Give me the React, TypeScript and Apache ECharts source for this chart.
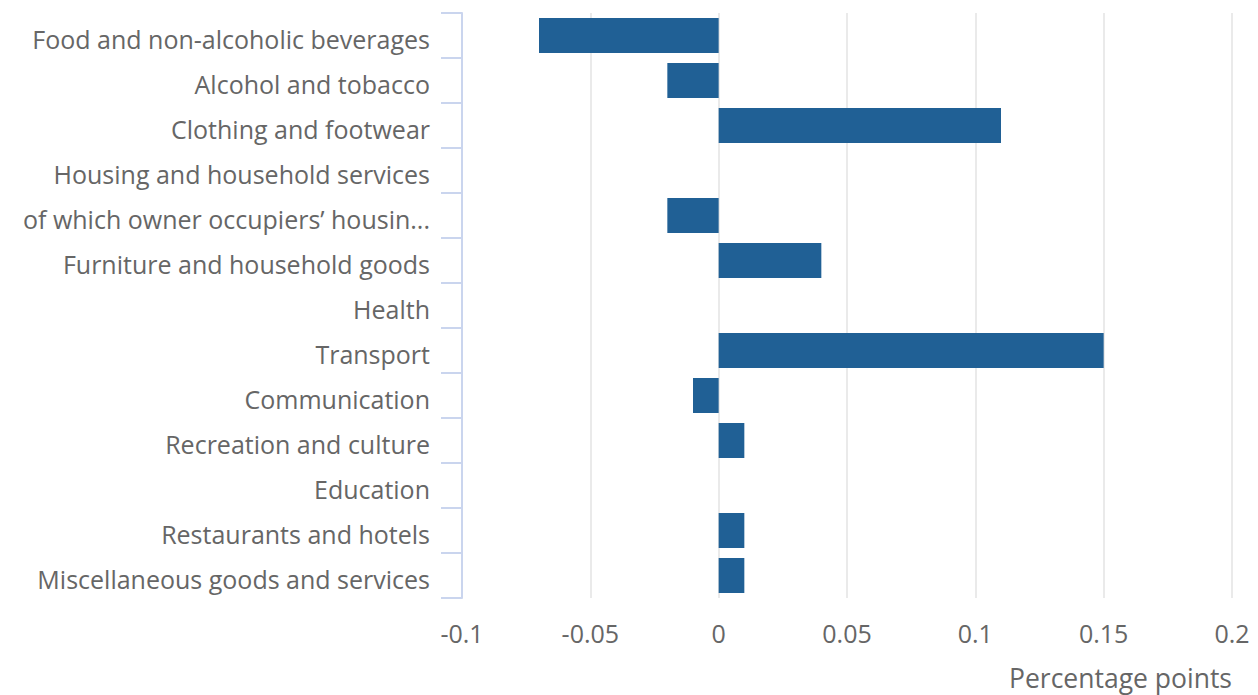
import React, { useEffect, useRef } from "react";
import * as echarts from "echarts";

const categories = [
  "Food and non-alcoholic beverages",
  "Alcohol and tobacco",
  "Clothing and footwear",
  "Housing and household services",
  "of which owner occupiers’ housing costs",
  "Furniture and household goods",
  "Health",
  "Transport",
  "Communication",
  "Recreation and culture",
  "Education",
  "Restaurants and hotels",
  "Miscellaneous goods and services",
];

const values = [-0.07, -0.02, 0.11, 0, -0.02, 0.04, 0, 0.15, -0.01, 0.01, 0, 0.01, 0.01];

const xTicks = { min: -0.1, max: 0.2, interval: 0.05 };
const xAxisName = "Percentage points";

export default function App() {
  const ref = useRef<HTMLDivElement>(null);
  useEffect(() => {
    if (!ref.current) return;
    const chart = echarts.init(ref.current, undefined, { renderer: "svg" });
    const font = "'Open Sans', sans-serif";
    chart.setOption({
      animation: false,
      grid: { left: 462, right: 26, top: 13, bottom: 97, containLabel: false },
      xAxis: {
        type: "value",
        min: xTicks.min,
        max: xTicks.max,
        interval: xTicks.interval,
        axisLine: { show: false },
        axisTick: { show: false },
        splitLine: { show: true, lineStyle: { color: "#e3e3e3", width: 1.5 } },
        axisLabel: {
          color: "#666666",
          fontSize: 25,
          fontFamily: font,
          margin: 22,
          formatter: (v: number) => String(Math.round(v * 100) / 100),
        },
      },
      yAxis: {
        type: "category",
        data: categories,
        inverse: true,
        axisLine: { show: true, onZero: false, lineStyle: { color: "#cad5ee", width: 2 } },
        axisTick: { show: true, length: 21, lineStyle: { color: "#cad5ee", width: 2 } },
        splitLine: { show: false },
        axisLabel: {
          color: "#666666",
          fontSize: 25,
          fontFamily: font,
          margin: 32,
          width: 424,
          overflow: "truncate",
          ellipsis: "...",
          verticalAlign: "top",
          lineHeight: 6,
        },
      },
      graphic: [
        {
          type: "text",
          right: 26,
          top: 664,
          style: { text: xAxisName, fill: "#666666", fontSize: 26.5, fontFamily: font },
        },
      ],
      series: [
        {
          type: "bar",
          data: values,
          barCategoryGap: "22%",
          itemStyle: { color: "#206095" },
        },
      ],
    });
    return () => chart.dispose();
  }, []);
  return <div ref={ref} style={{ width: 1258, height: 695, position: "absolute", left: 0, top: 0 }} />;
}
